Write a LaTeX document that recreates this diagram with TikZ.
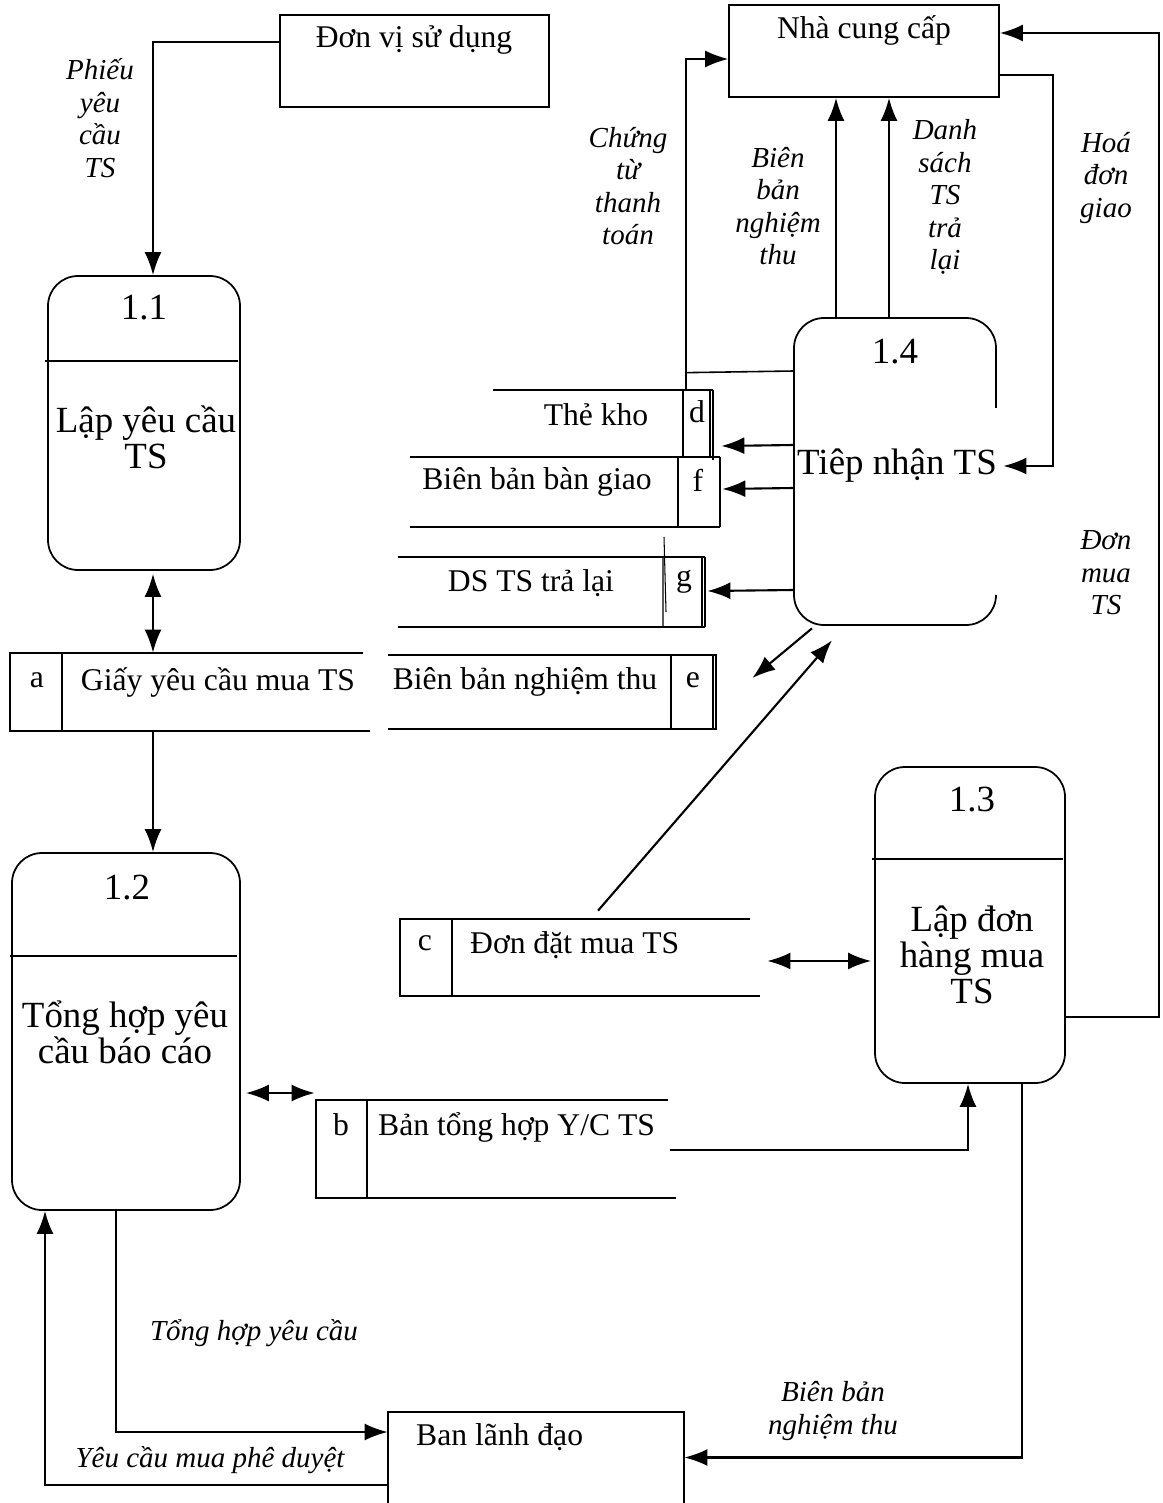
\documentclass[tikz,border=0pt]{standalone}
\usepackage{fontspec}
\setmainfont{Liberation Serif}
\usetikzlibrary{arrows.meta,positioning,calc,fit}

\begin{document}
\begin{tikzpicture}[x=0.02cm, y=-0.02cm, >={Latex[length=0.46cm,width=0.34cm]},
    every node/.style={font=\fontsize{18}{20}\selectfont},
    hole/.style={inner sep=0pt},
    box/.style={draw, line width=1pt, inner sep=0pt},
    proc/.style={draw, line width=1pt, rounded corners=0.6cm, inner sep=0pt},
    flow/.style={line width=1.2pt},
    lab/.style={font=\fontsize{16.5}{18.5}\selectfont\itshape, align=center},
    ptitle/.style={font=\fontsize{21}{20.5}\selectfont, align=center}]
    \useasboundingbox (0,0) rectangle (1162,1503);

    % external entities
    \node[box, fit={(280,15) (549,107)}] (dvsd) {};
    \node (dvsdText) at (414,40) {Đơn vị sử dụng};
    \node[box, fit={(729,5) (999,97)}] (ncc) {};
    \node (nccText) at (864,30) {Nhà cung cấp};
    \node[hole, fit={(388,1412) (684,1503)}] (bld) {};
    \draw[line width=1pt] (388,1506) -- (388,1412) -- (684,1412) -- (684,1506);
    \node[anchor=west] (bldText) at (410,1437) {Ban lãnh đạo};

    % processes
    \node[proc, fit={(48,276) (240,570)}] (p11) {};
    \draw[line width=1pt] (45,361) -- (238,361);
    \node[ptitle] (p11Num) at (144,308) {1.1};
    \node[ptitle] (p11Text) at (146,437) {Lập yêu cầu\\TS};

    \node[proc, fit={(12,853) (240,1210)}] (p12) {};
    \draw[line width=1pt] (10,956) -- (237,956);
    \node[ptitle] (p12Num) at (127,888) {1.2};
    \node[ptitle] (p12Text) at (125,1032) {Tổng hợp yêu\\cầu báo cáo};

    \node[proc, fit={(875,767) (1065,1083)}] (p13) {};
    \draw[line width=1pt] (872,859) -- (1063,859);
    \node[ptitle] (p13Num) at (972,800) {1.3};
    \node[ptitle] (p13Text) at (972,955) {Lập đơn\\hàng mua\\TS};

    \node[hole, fit={(794,318) (996,625)}] (p14) {};
    \draw[line width=1pt, rounded corners=0.6cm] (996,408) -- (996,318) -- (794,318) -- (794,625) -- (996,625) -- (996,595);
    \node[ptitle] (p14Num) at (895,352) {1.4};
    \node[ptitle] (p14Text) at (897,466) {Tiêp nhận TS};

    % data stores
    \node[hole, fit={(10,653) (363,731)}] (sa) {};
    \draw[line width=1pt] (363,653) -- (10,653) -- (10,731) -- (370,731);
    \draw[line width=1pt] (62,653) -- (62,731);
    \node (saId) at (37,680) {a};
    \node (saText) at (218,682) {Giấy yêu cầu mua TS};

    \node[hole, fit={(316,1100) (668,1198)}] (sb) {};
    \draw[line width=1pt] (668,1100) -- (316,1100) -- (316,1198) -- (676,1198);
    \draw[line width=1pt] (367,1100) -- (367,1198);
    \node (sbId) at (341,1125) {b};
    \node[anchor=west] (sbText) at (372,1127) {Bản tổng hợp Y/C TS};

    \node[hole, fit={(400,919) (750,996)}] (sc) {};
    \draw[line width=1pt] (750,919) -- (400,919) -- (400,996) -- (760,996);
    \draw[line width=1pt] (452,919) -- (452,996);
    \node (scId) at (425,943) {c};
    \node[anchor=west] (scText) at (464,945) {Đơn đặt mua TS};

    \node[hole, fit={(493,390) (712,458)}] (sd) {};
    \draw[line width=1pt] (493,390) -- (713,390);
    \draw[line width=0.8pt] (710,390) -- (710,458) (713,390) -- (713,460);
    \draw[line width=0.6pt] (683,390) -- (683,458);
    \node (sdId) at (697,412) {d};
    \node (sdText) at (596,415) {Thẻ kho};

    \node[hole, fit={(388,655) (717,729)}] (se) {};
    \draw[line width=1pt] (388,655) -- (717,655) (388,729) -- (717,729);
    \draw[line width=0.8pt] (713,655) -- (713,729) (716,655) -- (716,729);
    \draw[line width=0.6pt] (671,655) -- (671,729);
    \node (seId) at (693,680) {e};
    \node (seText) at (525,682) {Biên bản nghiệm thu};

    \node[hole, fit={(410,457) (720,527)}] (sf) {};
    \draw[line width=1pt] (410,457) -- (720,457) (410,527) -- (720,527);
    \draw[line width=1.4pt] (720,457) -- (720,527);
    \draw[line width=0.6pt] (678,457) -- (678,527);
    \node (sfId) at (698,480) {f};
    \node (sfText) at (537,482) {Biên bản bàn giao};

    \node[hole, fit={(398,557) (705,627)}] (sg) {};
    \draw[line width=1pt] (398,557) -- (705,557) (398,627) -- (705,627);
    \draw[line width=0.8pt] (702,557) -- (702,627) (705,557) -- (705,627);
    \draw[line width=0.6pt] (663,557) -- (663,627) (664,537) -- (666,612);
    \node (sgId) at (684,582) {g};
    \node (sgText) at (531,583) {DS TS trả lại};

    % flows around 1.1 and 1.2
    \draw[flow,->] ($(dvsd.west)+(0,-19)$) -| ($(p11.north)+(9,0)$);
    \draw[flow,<->] ($(p11.south)+(9,3)$) -- ($(sa.north)+(-33.5,0)$);
    \draw[flow,->] ($(sa.south)+(-33.5,0)$) -- ($(p12.north)+(27,0)$);
    \draw[flow,<->] ($(p12.east)+(5,61.5)$) -- ($(sb.west)+(-1,-56)$);
    \draw[flow,->] ($(p12.south)+(-10,0)$) |- ($(bld.west)+(0,-25.5)$);
    \draw[flow,->] ($(bld.west)+(0,27.5)$) -| ($(p12.south)+(-81,0)$);

    % flows around 1.3
    \draw[flow,->] ($(sb.east)+(2,1)$) -| ($(p13.south)+(-2,0)$);
    \draw[flow,<->] ($(sc.east)+(17,3.5)$) -- ($(p13.west)+(-3,36)$);
    \draw[flow,->] ($(p13.south)+(52,0)$) |- (bld.east);
    \draw[flow,->] ($(p13.east)+(0,92)$) -- ++(93,0) |- ($(ncc.east)+(0,-18)$);

    % flows around 1.4
    \draw[flow,->] ($(sc.north)+(23,-8)$) -- ($(p14.south)+(-63,15)$);
    \draw[flow,->] ($(p14.south)+(-83,3)$) -- ($(se.east)+(35,-14)$);
    \draw[flow,->] ($(p14.west)+(0,-26.5)$) -- ($(sd.east)+(9,22)$);
    \draw[flow,->] ($(p14.west)+(0,16.5)$) -- ($(sf.east)+(2,-3)$);
    \draw[flow,->] ($(p14.west)+(0,118.5)$) -- ($(sg.east)+(2,-1)$);
    \draw[flow,->] ($(p14.north)+(-59,0)$) -- ($(ncc.south)+(-28,0)$);
    \draw[flow,->] ($(p14.north)+(-6,0)$) -- ($(ncc.south)+(25,0)$);
    \draw[line width=0.9pt] ($(p14.west)+(0,-100.5)$) -- ($(sd.north)+(83.5,-17)$) -- (sd.north -| 686,0);
    \draw[line width=0.9pt,->] ($(sd.north)+(83.5,-17)$) |- ($(ncc.west)+(0,8)$);
    \draw[flow,->] ($(ncc.east)+(0,24)$) -- ++(53,0) |- ($(p14.east)+(7,-5.5)$);

    % flow labels
    \node[lab] (lPhieu) at (100,118) {Phiếu\\yêu\\cầu\\TS};
    \node[lab] (lChungTu) at (628,186) {Chứng\\từ\\thanh\\toán};
    \node[lab] (lBienBan) at (778,206) {Biên\\bản\\nghiệm\\thu};
    \node[lab] (lDanhSach) at (945,197) {Danh\\sách\\TS\\trả\\lại};
    \node[lab] (lHoaDon) at (1106,178) {Hoá\\đơn\\giao};
    \node[lab] (lDonMua) at (1106,573) {Đơn\\mua\\TS};
    \node[lab] (lTongHop) at (254,1333) {Tổng hợp yêu cầu};
    \node[lab] (lNghiemThu) at (833,1411) {Biên bản\\nghiệm thu};
    \node[lab] (lPheDuyet) at (210,1460) {Yêu cầu mua phê duyệt};
\end{tikzpicture}
\end{document}
